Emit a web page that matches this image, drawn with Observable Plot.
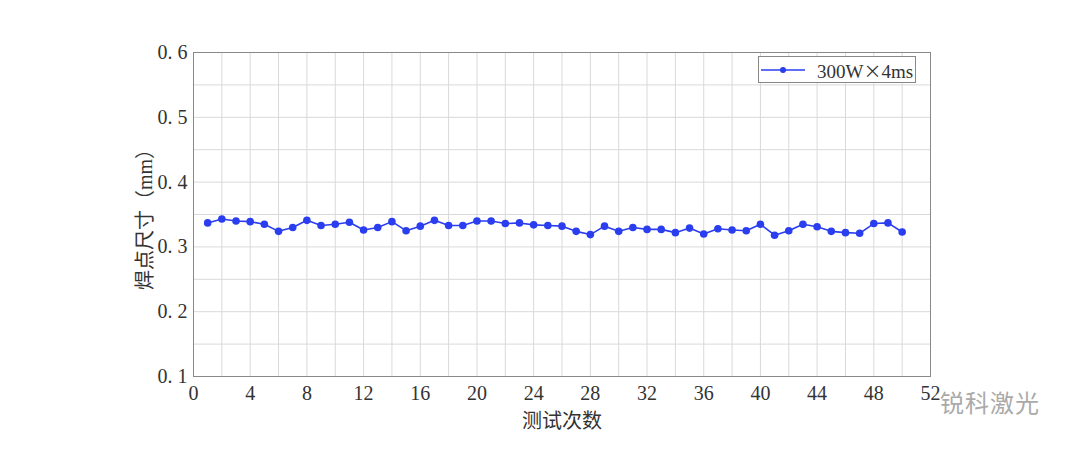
<!DOCTYPE html>
<html>
<head>
<meta charset="utf-8">
<script src="https://cdn.jsdelivr.net/npm/d3@7"></script>
<script src="https://cdn.jsdelivr.net/npm/@observablehq/plot@0.6"></script>
<style>
  html, body { margin: 0; padding: 0; background: #fff; }
  #wrap { position: relative; width: 1080px; height: 450px; }
  #legend {
    position: absolute; left: 758px; top: 56px; width: 158px; height: 27px;
    border: 1px solid #888; background: #fff; box-sizing: border-box;
    font-family: "Liberation Serif", "Noto Sans CJK SC", serif; font-size: 19px; color: #333;
  }
  #legend svg { position: absolute; left: 2px; top: 5px; }
  #legend .t { position: absolute; left: 58px; top: 0px; white-space: nowrap; }
  #legend .t b { font-weight: normal; font-family: "Noto Sans CJK SC", sans-serif; font-size: 18px; }
  #wm {
    position: absolute; left: 940px; top: 384px; font-family: "Noto Sans CJK SC", sans-serif;
    font-size: 24px; color: #aaa; letter-spacing: 1px;
  }
</style>
</head>
<body>
<div id="wrap"></div>
<script>
const trials = d3.range(1, 51);
const sizes = [
  0.337, 0.343, 0.340, 0.339, 0.335, 0.324, 0.330, 0.341, 0.333, 0.335,
  0.338, 0.326, 0.330, 0.339, 0.325, 0.332, 0.341, 0.333, 0.333, 0.340,
  0.340, 0.336, 0.337, 0.334, 0.333, 0.332, 0.324, 0.319, 0.332, 0.324,
  0.330, 0.327, 0.327, 0.322, 0.329, 0.320, 0.328, 0.326, 0.325, 0.335,
  0.318, 0.325, 0.335, 0.331, 0.324, 0.322, 0.321, 0.336, 0.337, 0.323
];
const seriesName = ["300W", "×", "4ms"];
const xTicks = d3.range(0, 53, 4);
const xGrid = d3.range(0, 53, 2);
const yTicks = [0.1, 0.2, 0.3, 0.4, 0.5, 0.6];
const yGrid = d3.range(0, 11).map(i => 0.1 + i * 0.05);

const data = trials.map((t, i) => ({trial: t, size: sizes[i]}));
const blue = "#2a3ef0";

const chart = Plot.plot({
  width: 1080,
  height: 450,
  marginLeft: 193,
  marginRight: 150,
  marginTop: 52,
  marginBottom: 74,
  style: {fontFamily: "'Liberation Serif', 'Noto Sans CJK SC', serif", fontSize: "19px", color: "#333", background: "#fff"},
  x: {domain: [0, 52]},
  y: {domain: [0.1, 0.6]},
  marks: [
    Plot.gridX(xGrid, {stroke: "#d9d9d9", strokeOpacity: 1}),
    Plot.gridY(yGrid, {stroke: "#d9d9d9", strokeOpacity: 1}),
    Plot.frame({stroke: "#888"}),
    Plot.axisX(xTicks, {tickSize: 0, tickPadding: 9, tickFormat: d => String(d), label: "测试次数", labelAnchor: "center", labelArrow: "none", labelOffset: 51, fontSize: 20}),
    Plot.axisY(yTicks, {tickSize: 0, tickPadding: 6, tickFormat: d => d.toFixed(1).replace(".", ". "), label: "焊点尺寸（mm）", labelAnchor: "center", labelArrow: "none", labelOffset: 56, fontSize: 20}),
    Plot.line(data, {x: "trial", y: "size", stroke: blue, strokeWidth: 1.6}),
    Plot.dot(data, {x: "trial", y: "size", fill: blue, r: 3.8, stroke: "none"})
  ]
});
const wrap = document.getElementById("wrap");
wrap.appendChild(chart);

const legend = document.createElement("div");
legend.id = "legend";
legend.innerHTML = `<svg width="50" height="16"><line x1="0" y1="8" x2="44" y2="8" stroke="${blue}" stroke-width="1.6"/><circle cx="22" cy="8" r="3" fill="${blue}"/></svg><span class="t">${seriesName[0]}<b>${seriesName[1]}</b>${seriesName[2]}</span>`;
wrap.appendChild(legend);

const wm = document.createElement("div");
wm.id = "wm";
wm.textContent = "锐科激光";
wrap.appendChild(wm);
</script>
</body>
</html>
